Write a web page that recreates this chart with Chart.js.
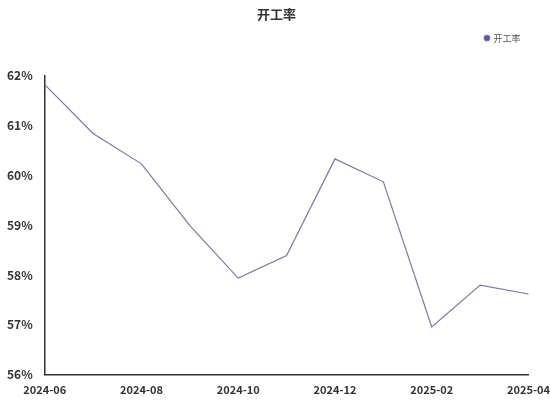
<!DOCTYPE html>
<html>
<head>
<meta charset="utf-8">
<script src="https://cdn.jsdelivr.net/npm/chart.js@4"></script>
<style>
  html, body { margin: 0; padding: 0; background: #fff; }
  #wrap { width: 550px; height: 400px; }
</style>
</head>
<body>
<div id="wrap"><canvas id="chart"></canvas></div>
<script>
const months = ['2024-06', '2024-07', '2024-08', '2024-09', '2024-10', '2024-11',
                '2024-12', '2025-01', '2025-02', '2025-03', '2025-04'];
const rates = [61.82, 60.84, 60.23, 58.99, 57.94, 58.39, 60.33, 59.87, 56.96, 57.80, 57.62];
const seriesName = '开工率';

const font = "'Noto Sans CJK SC', 'Noto Sans', sans-serif";

// extra room under the legend
const legendGap = {
    id: 'legendGap',
    beforeInit(chart) {
        const fit = chart.legend.fit;
        chart.legend.fit = function () {
            fit.bind(chart.legend)();
            this.height += 23;
        };
    }
};

new Chart(document.getElementById('chart'), {
    type: 'line',
    data: {
        labels: months,
        datasets: [{
            label: seriesName,
            data: rates,
            borderColor: '#7a78a8',
            backgroundColor: '#5a52a8',
            borderWidth: 1.2,
            tension: 0,
            pointRadius: 0,
            pointStyle: 'circle'
        }]
    },
    options: {
        responsive: true,
        maintainAspectRatio: false,
        animation: false,
        layout: { padding: { left: 3, right: 0, top: 4, bottom: 4 } },
        plugins: {
            title: {
                display: true,
                text: seriesName,
                color: '#333',
                font: { family: font, size: 13, weight: 'bold' },
                padding: { top: 2, bottom: 4 }
            },
            legend: {
                position: 'top',
                align: 'end',
                fullSize: false,
                labels: {
                    usePointStyle: true,
                    pointStyle: 'circle',
                    boxWidth: 4,
                    boxHeight: 4,
                    color: '#555',
                    font: { family: font, size: 9 },
                    padding: 8
                }
            },
            tooltip: { enabled: false }
        },
        scales: {
            x: {
                grid: { display: false },
                border: { display: true, color: '#333', width: 1.5 },
                ticks: {
                    color: '#333',
                    font: { family: font, size: 11, weight: 'bold' },
                    maxRotation: 0,
                    autoSkip: false,
                    padding: 0,
                    callback: function (v, i) { return i % 2 === 0 ? months[i] : ''; }
                }
            },
            y: {
                min: 56,
                max: 62,
                grid: { display: false },
                border: { display: true, color: '#333', width: 1.5 },
                ticks: {
                    stepSize: 1,
                    color: '#333',
                    font: { family: font, size: 12, weight: 'bold' },
                    padding: 4,
                    callback: v => v + '%'
                }
            }
        }
    },
    plugins: [legendGap]
});
</script>
</body>
</html>
